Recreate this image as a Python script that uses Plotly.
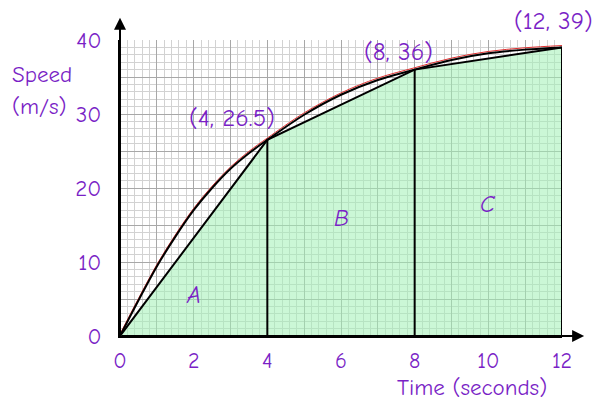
import plotly.graph_objects as go

# data
curve_t = [0, 0.5, 1, 1.5, 2, 2.5, 3, 3.5, 4, 5, 6, 7, 8, 9, 10, 11, 12]
curve_v = [0, 4.8, 9.4, 13.4, 17.0, 20.0, 22.6, 24.7, 26.5, 29.9, 32.6, 34.6, 36.0, 37.3, 38.2, 38.7, 39.0]
chord_t = [0, 4, 8, 12]
chord_v = [0, 26.5, 36, 39]
point_labels = ["(4, 26.5)", "(8, 36)", "(12, 39)"]
region_names = ["A", "B", "C"]
region_pos_t = [2.0, 6.0, 10.0]
region_pos_v = [5.5, 16.0, 17.8]
x_ticks = list(range(0, 13))
x_text = [str(v) if v % 2 == 0 else "" for v in x_ticks]
y_ticks = list(range(0, 41, 5))
y_text = [str(v) if v % 10 == 0 else "" for v in y_ticks]

Y_MAX = 40
PURPLE = "#7a1fc6"
FONT = "Comic Neue, Comic Sans MS, Open Sans, sans-serif"

fig = go.Figure()

# green trapezium fill
fig.add_trace(go.Scatter(
    x=chord_t + [chord_t[-1], chord_t[0]],
    y=chord_v + [0, 0],
    fill="toself", fillcolor="rgba(160,240,180,0.55)",
    line=dict(width=0), mode="lines", hoverinfo="skip"))

# vertical dividers
for t, v in zip(chord_t[1:], chord_v[1:]):
    fig.add_trace(go.Scatter(x=[t, t], y=[0, v], mode="lines",
                             line=dict(color="black", width=2), hoverinfo="skip"))

# chords
fig.add_trace(go.Scatter(x=chord_t, y=chord_v, mode="lines",
                         line=dict(color="black", width=2), hoverinfo="skip"))

# curve (red thin beside black)
fig.add_trace(go.Scatter(x=curve_t, y=[v + 0.25 for v in curve_v], mode="lines",
                         line=dict(color="#e03030", width=1, shape="spline"), hoverinfo="skip"))
fig.add_trace(go.Scatter(x=curve_t, y=curve_v, mode="lines",
                         line=dict(color="black", width=2, shape="spline"), hoverinfo="skip"))

# point labels (y in paper units so labels above the axis range stay visible)
label_offsets = [(-0.96, 3.0), (-0.45, 2.4), (-0.24, 3.7)]
for (t, v), txt, (dx, dy) in zip(zip(chord_t[1:], chord_v[1:]), point_labels, label_offsets):
    fig.add_annotation(x=t + dx, y=(v + dy) / Y_MAX, xref="x", yref="paper",
                       xanchor="center", yanchor="middle",
                       text=txt, showarrow=False,
                       font=dict(size=25, color=PURPLE, family=FONT))

for name, t, v in zip(region_names, region_pos_t, region_pos_v):
    fig.add_annotation(x=t, y=v, text="<i>" + name + "</i>", showarrow=False,
                       font=dict(size=24, color=PURPLE, family=FONT))

# axis arrows
fig.add_annotation(x=0, y=43, ax=0, ay=0, xref="x", yref="y", axref="x", ayref="y",
                   showarrow=True, arrowhead=2, arrowsize=1.2, arrowwidth=2, arrowcolor="black", text="")
fig.add_annotation(x=12.6, y=0, ax=0, ay=0, xref="x", yref="y", axref="x", ayref="y",
                   showarrow=True, arrowhead=2, arrowsize=1.2, arrowwidth=2, arrowcolor="black", text="")

# axis titles
fig.add_annotation(xref="paper", yref="paper", x=-0.176, y=0.882, xanchor="center", yanchor="middle",
                   text="Speed", showarrow=False,
                   font=dict(size=23, color=PURPLE, family=FONT))
fig.add_annotation(xref="paper", yref="paper", x=-0.183, y=0.774, xanchor="center", yanchor="middle",
                   text="(m/s)", showarrow=False,
                   font=dict(size=23, color=PURPLE, family=FONT))
fig.add_annotation(xref="paper", yref="paper", x=0.796, y=-0.175, xanchor="center", yanchor="middle",
                   text="Time (seconds)", showarrow=False,
                   font=dict(size=23, color=PURPLE, family=FONT))

fig.update_xaxes(range=[0, 12], tickvals=x_ticks, ticktext=x_text,
                 showgrid=True, gridcolor="#a8a8a8", gridwidth=1.3,
                 minor=dict(dtick=0.2, showgrid=True, gridcolor="#d2d2d2", gridwidth=1),
                 showline=True, linecolor="black", linewidth=2, zeroline=False,
                 ticks="", tickfont=dict(size=22, color=PURPLE, family=FONT), ticklabelstandoff=4)
fig.update_yaxes(range=[0, Y_MAX], tickvals=y_ticks, ticktext=y_text,
                 showgrid=True, gridcolor="#a8a8a8", gridwidth=1.3,
                 minor=dict(dtick=1, showgrid=True, gridcolor="#d2d2d2", gridwidth=1),
                 showline=True, linecolor="black", linewidth=2, zeroline=False,
                 ticks="", tickfont=dict(size=23, color=PURPLE, family=FONT), ticklabelstandoff=12)

fig.update_layout(width=605, height=403, showlegend=False,
                  margin=dict(l=120, r=43, t=40, b=67),
                  plot_bgcolor="white", paper_bgcolor="white")

fig.write_html("out.html", config={"displayModeBar": False},
               post_script="document.body.style.margin='0';")
